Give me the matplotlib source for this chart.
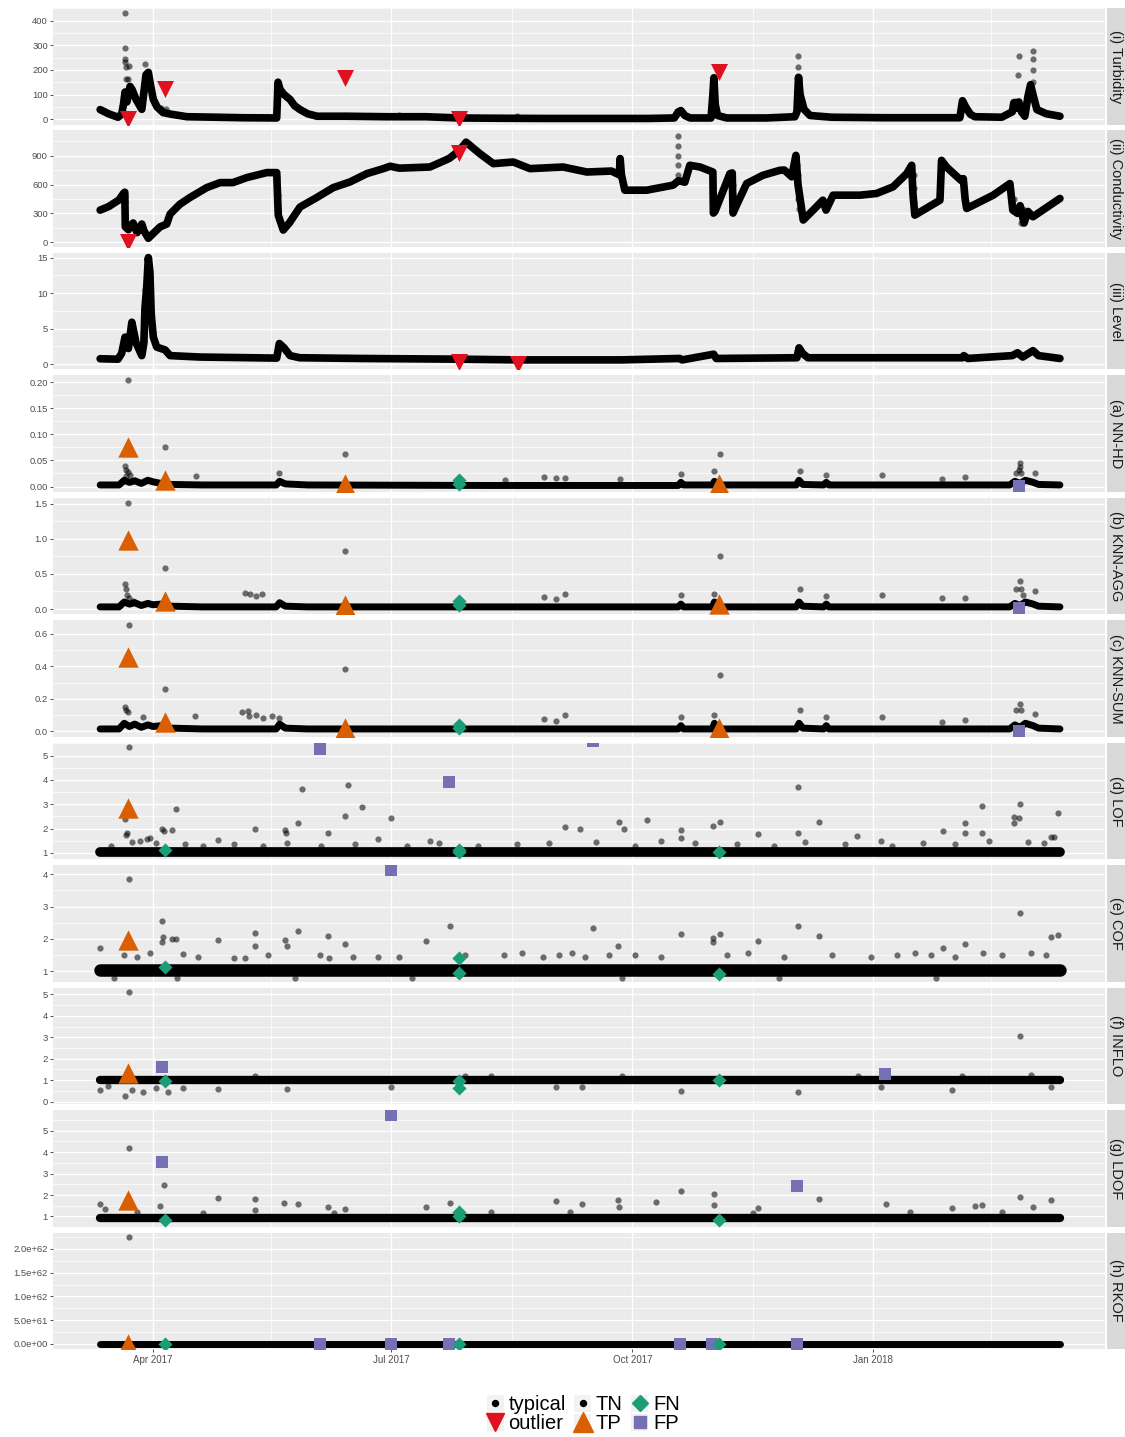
"""
Water-quality sensor signals and outlier scores of eight detectors,
stacked in ggplot-like facets with TP / FN / FP markers.
"""
import numpy as np
import pandas as pd
import matplotlib
matplotlib.use("Agg")
import matplotlib.pyplot as plt
from matplotlib.patches import Rectangle
from matplotlib.lines import Line2D
from matplotlib.legend_handler import HandlerBase

plt.rcParams['font.family'] = ['Liberation Sans', 'DejaVu Sans']

# --- DATA (day since START, value) ---
START = pd.Timestamp('2017-03-11')

turb_line = [(0.8, 39), (4, 22), (7.6, 8), (9, 20), (9.7, 60), (10.3, 110), (11, 70), (11.6, 100),
             (12.2, 133), (13, 120), (14.5, 80), (16.7, 40), (17.5, 110), (18.3, 180), (19.2, 190),
             (20, 140), (21.1, 80), (22.5, 50), (24.8, 27), (28, 20), (34, 10), (45, 8), (55, 6),
             (68.2, 5), (68.7, 150), (69.5, 120), (71, 100), (73.3, 80), (75, 55), (77.1, 39),
             (80, 22), (83.6, 12), (95, 12), (110, 10), (125, 10), (137.8, 5), (150, 4), (170, 3),
             (190, 3), (210, 3), (220, 5), (221.5, 30), (222.5, 35), (224, 15), (226, 5), (234, 5),
             (234.7, 100), (235.1, 168), (235.6, 60), (236.5, 15), (240, 5), (255, 5), (266, 10),
             (266.8, 30), (267.4, 170), (268, 100), (269.5, 40), (271.8, 15), (280, 8), (300, 6),
             (329, 6), (330, 75), (331.2, 50), (333, 20), (334.7, 10), (345, 8), (349, 30),
             (349.6, 67), (350.5, 45), (351.5, 70), (352.5, 30), (353.8, 12), (355, 93), (356, 140),
             (356.9, 100), (358.4, 39), (362, 22), (367.2, 12)]
turb_dots = [(10.2, 430), (10.2, 290), (10.3, 245), (10.4, 230), (10.5, 210), (10.6, 165),
             (11.3, 165), (12.0, 215), (18.0, 225), (19.0, 185), (19.5, 165), (22, 60), (24, 45),
             (26, 40), (68.6, 140), (68.7, 125), (68.8, 95), (234.9, 150), (235.0, 120),
             (235.0, 80), (267.2, 257), (267.3, 210), (267.5, 172), (267.5, 140), (351.0, 180),
             (351.5, 255), (350.0, 75), (349.8, 60), (356.9, 275), (356.9, 246), (357.0, 200),
             (357.0, 150), (115, 18), (160, 15)]
turb_outlier = [(11.5, 0), (25.6, 122), (94.3, 167), (137.8, 0), (237, 190)]

cond_line = [(0.8, 334), (4, 370), (8, 440), (9.7, 507), (10.2, 520), (10.4, 160), (11.6, 130),
             (12.2, 170), (13.4, 200), (14.9, 100), (16.7, 189), (17.5, 120), (19.2, 41), (21, 90),
             (23.7, 160), (26.2, 189), (27.5, 293), (31.3, 396), (35.1, 465), (41.5, 568),
             (46.6, 620), (51.5, 620), (56.8, 672), (64.4, 724), (68.2, 724), (68.8, 280),
             (70.7, 127), (73, 200), (77.1, 366), (83.5, 465), (89.8, 568), (96.2, 627),
             (102.6, 713), (108.9, 765), (111.5, 790), (115, 770), (126.7, 782), (134, 870),
             (137.8, 950), (140.5, 1040), (145.8, 920), (150.9, 817), (158.5, 834), (164.9, 765),
             (177.5, 782), (186.6, 730), (196, 740), (199, 700), (199.3, 870), (199.8, 700),
             (201.1, 541), (209.4, 541), (219.5, 593), (221.6, 640), (224, 624), (225.9, 800),
             (229.8, 782), (234.7, 730), (234.9, 303), (235.5, 320), (241.2, 713), (242.1, 720),
             (242.4, 303), (244, 400), (247.6, 610), (253.8, 696), (260.3, 748), (262, 750),
             (264.8, 680), (266.4, 903), (267.2, 600), (269.2, 231), (273, 334), (276.7, 437),
             (277.9, 334), (280.6, 489), (290.8, 489), (297.2, 507), (303.5, 576), (308.7, 713),
             (310.6, 800), (311.1, 500), (311.8, 282), (321.4, 437), (322, 851), (323.9, 782),
             (329.4, 644), (330.3, 661), (331, 450), (331.6, 351), (341.7, 489), (348.1, 610),
             (349.2, 334), (351, 300), (352, 380), (353.5, 200), (355, 320), (356.9, 265),
             (367.2, 455)]
cond_dots = [(10.3, 480), (10.3, 420), (10.3, 300), (10.4, 220), (68.5, 680), (68.5, 560),
             (68.6, 490), (68.6, 350), (221.3, 1100), (221.3, 1000), (221.3, 900), (221.4, 800),
             (221.4, 700), (234.8, 600), (234.8, 500), (234.8, 400), (242.3, 600), (242.3, 500),
             (242.3, 400), (267.0, 800), (267.1, 700), (267.3, 450), (267.4, 350), (311.3, 700),
             (311.3, 560), (311.4, 420), (349.8, 450), (351.5, 320), (352.5, 200), (353.0, 350)]
cond_outlier = [(11.5, 5), (137.8, 930)]

level_line = [(0.8, 0.76), (7.6, 0.7), (9, 1.5), (10.3, 3.8), (11.3, 2.5), (11.6, 2.2), (12.9, 5.9),
              (14.5, 3.0), (16.7, 1.2), (17.5, 3.0), (17.9, 7.8), (18.6, 11), (19.2, 15.0),
              (19.8, 13), (20.3, 7), (21.1, 3.8), (22.4, 2.4), (25.6, 2.0), (27.5, 1.2), (38.9, 1.0),
              (68.2, 0.85), (69.2, 2.9), (71, 2.3), (73.3, 1.2), (77, 0.9), (100, 0.8), (137.8, 0.7),
              (160, 0.6), (200, 0.6), (222, 0.8), (223, 0.6), (235, 1.4), (236, 0.8), (266.8, 0.9),
              (267.6, 2.3), (269, 1.5), (271, 0.9), (330, 0.9), (330.5, 1.2), (332, 0.8), (349, 1.2),
              (351, 1.6), (353, 1.0), (356.9, 1.9), (359, 1.2), (367.2, 0.8)]
level_dots = [(18.7, 14.6), (18.9, 14.2), (18.3, 10.7), (18.1, 10.5), (17.9, 7.6), (17.7, 6.0),
              (20.0, 10), (20.5, 5), (10.2, 3.5), (10.5, 3.0), (12.5, 4.5)]
level_outlier = [(137.8, 0.3), (160.3, 0.0)]

# shared reading days of the score baselines
score_day = [0.8, 8, 10, 12, 14, 16.5, 19, 21, 24, 28, 40, 68, 69.3, 71.5, 80, 150, 221.5, 222.5,
             223.5, 234.5, 235.3, 236.5, 266.5, 267.6, 269, 277, 278, 279, 330, 348, 350, 352,
             354, 357, 359, 367.2]
nnhd_base = [0.003, 0.003, 0.012, 0.008, 0.011, 0.006, 0.012, 0.009, 0.006, 0.004, 0.003, 0.003,
             0.010, 0.005, 0.003, 0.002, 0.002, 0.008, 0.003, 0.003, 0.010, 0.003, 0.003, 0.012,
             0.004, 0.003, 0.008, 0.003, 0.003, 0.003, 0.010, 0.006, 0.012, 0.008, 0.004, 0.003]
knnagg_base = [0.03, 0.03, 0.10, 0.07, 0.09, 0.05, 0.08, 0.06, 0.07, 0.04, 0.03, 0.03, 0.09, 0.04,
               0.03, 0.03, 0.03, 0.07, 0.03, 0.03, 0.10, 0.03, 0.03, 0.10, 0.04, 0.03, 0.07, 0.03,
               0.03, 0.03, 0.08, 0.05, 0.10, 0.07, 0.04, 0.03]
knnsum_base = [0.015, 0.015, 0.05, 0.03, 0.045, 0.025, 0.04, 0.03, 0.035, 0.02, 0.015, 0.015,
               0.045, 0.02, 0.015, 0.015, 0.015, 0.035, 0.015, 0.015, 0.05, 0.015, 0.015, 0.05,
               0.02, 0.015, 0.035, 0.015, 0.015, 0.015, 0.04, 0.025, 0.05, 0.035, 0.02, 0.015]
lof_base = [1.05] * len(score_day)
cof_base = [1.03] * len(score_day)
inflo_base = [1.0] * len(score_day)
ldof_base = [0.91] * len(score_day)
rkof_base = [0.0] * len(score_day)

nnhd_dots = [(11.6, 0.204), (10.3, 0.040), (10.7, 0.032), (11.3, 0.027), (10.5, 0.020),
             (12.3, 0.022), (25.5, 0.075), (37.4, 0.020), (69.1, 0.026), (94.3, 0.062),
             (155.3, 0.013), (170.2, 0.019), (174.8, 0.016), (178.2, 0.016), (199.2, 0.015),
             (222.5, 0.024), (235.1, 0.029), (237.4, 0.062), (267.9, 0.029), (277.9, 0.023),
             (299.2, 0.023), (322.1, 0.015), (330.9, 0.019), (350.4, 0.025), (351.5, 0.032),
             (351.9, 0.046), (351.9, 0.038), (352.5, 0.025), (357.6, 0.025)]
knnagg_dots = [(11.6, 1.51), (10.3, 0.35), (10.7, 0.28), (11.0, 0.20), (12.0, 0.15), (13.5, 0.12),
               (25.5, 0.59), (56.1, 0.23), (58.0, 0.21), (60.3, 0.18), (62.6, 0.22), (94.3, 0.83),
               (170.2, 0.17), (174.8, 0.14), (178.2, 0.22), (222.5, 0.20), (235.1, 0.22),
               (237.4, 0.76), (267.9, 0.29), (277.9, 0.19), (299.2, 0.20), (322.1, 0.15),
               (330.9, 0.15), (350.4, 0.29), (351.9, 0.40), (352.5, 0.29), (353.0, 0.20),
               (357.6, 0.26)]
knnsum_dots = [(11.8, 0.654), (10.3, 0.15), (10.7, 0.13), (11.3, 0.12), (25.5, 0.26), (17.1, 0.09),
               (37.0, 0.096), (55.0, 0.12), (57.3, 0.125), (57.5, 0.096), (60.3, 0.10),
               (63.1, 0.085), (66.3, 0.093), (69.1, 0.085), (94.3, 0.386), (170.2, 0.076),
               (174.8, 0.065), (178.2, 0.10), (222.5, 0.09), (235.1, 0.10), (237.4, 0.35),
               (267.9, 0.13), (277.9, 0.09), (299.2, 0.09), (322.1, 0.06), (330.9, 0.07),
               (350.4, 0.13), (351.9, 0.17), (352.5, 0.13), (357.6, 0.11)]
lof_dots = [(11.8, 5.35), (10.3, 2.375), (10.7, 1.75), (11.0, 1.8), (18.6, 1.57), (24.5, 1.99),
            (25.0, 1.9), (28.1, 1.95), (29.8, 2.79), (45.8, 1.53), (59.9, 2.0), (71.4, 1.96),
            (71.8, 1.8), (76.5, 2.22), (77.7, 3.63), (87.9, 1.8), (94.3, 2.5), (95.5, 3.79),
            (100.6, 2.89), (106.8, 1.55), (111.8, 2.45), (126.7, 1.5), (178.2, 2.05), (184.0, 1.99),
            (199.0, 2.26), (200.8, 1.99), (209.5, 2.36), (222.5, 1.96), (222.5, 1.6), (234.7, 2.1),
            (237.4, 2.29), (252.1, 1.76), (267.2, 3.71), (267.2, 1.8), (275.2, 2.26), (289.7, 1.7),
            (298.9, 1.5), (322.5, 1.92), (330.9, 2.24), (330.9, 1.8), (337.4, 2.92), (337.4, 1.8),
            (349.6, 2.47), (351.9, 3.03), (351.5, 2.45), (349.6, 2.22), (366.4, 2.65),
            (363.7, 1.65), (365.0, 1.65),
            (5, 1.3), (13, 1.45), (16, 1.5), (20, 1.6), (22, 1.4), (33, 1.35), (40, 1.3), (52, 1.35),
            (63, 1.3), (72, 1.4), (85, 1.3), (98, 1.35), (118, 1.3), (130, 1.4), (145, 1.3),
            (160, 1.35), (172, 1.4), (190, 1.45), (205, 1.3), (215, 1.5), (228, 1.4), (244, 1.35),
            (258, 1.3), (270, 1.45), (285, 1.35), (303, 1.3), (315, 1.4), (327, 1.35), (340, 1.5),
            (355, 1.45), (361, 1.4)]
cof_dots = [(0.8, 1.72), (11.8, 3.85), (24.5, 2.54), (24.7, 2.07), (24.5, 1.9), (28.1, 1.98),
            (29.8, 2.0), (45.8, 1.95), (59.9, 2.19), (59.9, 1.79), (71.4, 1.96), (72.0, 1.79),
            (76.5, 2.23), (87.9, 2.1), (94.3, 1.85), (106.8, 1.45), (32.3, 1.53), (52, 1.42),
            (56, 1.4), (84.7, 1.5), (97.3, 1.43), (125.2, 1.93), (134.4, 2.39), (188.9, 2.34),
            (198.5, 1.79), (222.5, 2.16), (234.7, 2.03), (234.9, 1.9), (237.4, 2.16), (252.1, 1.93),
            (267.2, 2.39), (275.2, 2.09), (322.5, 1.72), (330.9, 1.84), (351.9, 2.79),
            (363.7, 2.05), (366.4, 2.13),
            (10, 1.5), (15, 1.45), (20, 1.55), (38, 1.45), (65, 1.5), (88, 1.4), (115, 1.45),
            (140, 1.5), (155, 1.5), (162, 1.55), (170, 1.45), (176, 1.5), (181, 1.55), (186, 1.45),
            (195, 1.5), (205, 1.5), (215, 1.45), (240, 1.5), (248, 1.55), (262, 1.45), (280, 1.5),
            (295, 1.45), (305, 1.5), (312, 1.55), (318, 1.5), (327, 1.45), (338, 1.55), (345, 1.5),
            (356, 1.55), (362, 1.5), (6, 0.8), (30, 0.78), (75, 0.8), (120, 0.8), (200, 0.79),
            (260, 0.8), (320, 0.8)]
inflo_dots = [(11.8, 5.12), (0.8, 0.55), (3.9, 0.73), (10.3, 0.26), (12.9, 0.55), (17.1, 0.45),
              (22.0, 0.66), (26.6, 0.45), (32.3, 0.66), (45.9, 0.6), (72.0, 0.6), (111.7, 0.7),
              (351.9, 3.07), (267.2, 0.43), (222.5, 0.5), (326.0, 0.53), (184.7, 0.7),
              (174.8, 0.7), (363.7, 0.7), (298.9, 0.7), (140, 1.2), (150, 1.22), (356, 1.25),
              (60, 1.18), (200, 1.2), (290, 1.18), (330, 1.2)]
ldof_dots = [(11.8, 4.2), (0.8, 1.59), (2.5, 1.33), (25.2, 2.45), (23.5, 1.5), (45.9, 1.86),
             (59.9, 1.83), (71.0, 1.65), (76.3, 1.58), (87.8, 1.45), (94.3, 1.35), (59.9, 1.3),
             (125.2, 1.42), (134.4, 1.61), (174.8, 1.7), (184.7, 1.56), (198.5, 1.78), (199.0, 1.45),
             (213.0, 1.67), (222.5, 2.2), (235.1, 2.03), (235.1, 1.55), (252.1, 1.41), (275.2, 1.8),
             (300.8, 1.6), (326, 1.4), (334.7, 1.5), (337.4, 1.53), (351.9, 1.9), (363.7, 1.75),
             (357, 1.45), (15, 1.2), (40, 1.15), (90, 1.15), (150, 1.2), (180, 1.2), (250, 1.15),
             (310, 1.2), (345, 1.2)]
rkof_dots = [(11.8, 2.25e62)]

# outcome markers per detector: (day, score)
nnhd_tp = [(11.5, 0.075), (25.6, 0.012), (94.3, 0.005), (237, 0.004)]
nnhd_fn = [(137.8, 0.005), (137.8, 0.012)]
nnhd_fp = [(351.5, 0.001)]
knnagg_tp = [(11.5, 0.99), (25.6, 0.12), (94.3, 0.06), (237, 0.07)]
knnagg_fn = [(137.8, 0.05), (137.8, 0.11)]
knnagg_fp = [(351.5, 0.01)]
knnsum_tp = [(11.5, 0.46), (25.6, 0.057), (94.3, 0.02), (237, 0.02)]
knnsum_fn = [(137.8, 0.02), (137.8, 0.04)]
knnsum_fp = [(351.5, 0.005)]
lof_tp = [(11.5, 2.83)]
lof_fn = [(25.6, 1.12), (137.8, 1.1), (137.8, 1.05), (237, 1.05)]
lof_fp = [(84.7, 5.27), (134, 3.92), (188.9, 5.62)]
cof_tp = [(11.5, 1.95)]
cof_fn = [(25.6, 1.14), (137.8, 1.42), (137.8, 0.95), (237, 0.9)]
cof_fp = [(111.8, 4.12)]
inflo_tp = [(11.5, 1.32)]
inflo_fn = [(25.6, 0.95), (137.8, 0.95), (137.8, 0.65), (237, 1.0)]
inflo_fp = [(24.4, 1.62), (300.6, 1.29)]
ldof_tp = [(11.5, 1.75)]
ldof_fn = [(25.6, 0.85), (137.8, 1.2), (137.8, 1.0), (237, 0.85)]
ldof_fp = [(24.4, 3.55), (111.8, 5.71), (266.8, 2.43)]
rkof_tp = [(11.5, 0.0)]
rkof_fn = [(25.6, 0.0), (137.8, 0.0), (237, 0.0)]
rkof_fp = [(84.7, 0.0), (111.8, 0.0), (134, 0.0), (222.1, 0.0), (234.4, 0.0), (266.8, 0.0)]

panel_names = ['(i) Turbidity', '(ii) Conductivity', '(iii) Level', '(a) NN-HD', '(b) KNN-AGG',
               '(c) KNN-SUM', '(d) LOF', '(e) COF', '(f) INFLO', '(g) LDOF', '(h) RKOF']

x_major = ['2017-04-01', '2017-07-01', '2017-10-01', '2018-01-01']
x_minor = ['2017-05-16', '2017-08-16', '2017-11-16', '2018-02-15']

# --- STYLE ---
W, H = 1125, 1437
BG = '#EBEBEB'
RED, ORANGE, GREEN, PURPLE = '#E0101E', '#D95F02', '#1B9E77', '#7570B3'
S_DOT, S_OUT, S_TP, S_FN, S_FP = 20, 150, 215, 52, 78


def to_dt(days):
    return START + pd.to_timedelta(np.asarray(days, dtype=float), unit='D')


def unzip(pairs):
    d, v = zip(*pairs)
    return to_dt(d), np.array(v, dtype=float)


def sci(v):
    m, e = f"{v:.1e}".split('e')
    return f"{m}e{int(e):+03d}"


panels = [
    dict(line=unzip(turb_line), lw=5.5, dots=turb_dots, out=turb_outlier,
         ylim=(-21.5, 451), ticks=[0, 100, 200, 300, 400], minor=[50, 150, 250, 350, 450], fmt='{:g}'),
    dict(line=unzip(cond_line), lw=5.5, dots=cond_dots, out=cond_outlier,
         ylim=(-49, 1162), ticks=[0, 300, 600, 900], minor=[150, 450, 750, 1050], fmt='{:g}'),
    dict(line=unzip(level_line), lw=5.5, dots=level_dots, out=level_outlier,
         ylim=(-0.74, 15.66), ticks=[0, 5, 10, 15], minor=[2.5, 7.5, 12.5], fmt='{:g}'),
    dict(line=(to_dt(score_day), np.array(nnhd_base)), lw=5, dots=nnhd_dots,
         tp=nnhd_tp, fn=nnhd_fn, fp=nnhd_fp, ylim=(-0.0102, 0.213),
         ticks=[0, 0.05, 0.10, 0.15, 0.20], minor=[0.025, 0.075, 0.125, 0.175], fmt='{:.2f}'),
    dict(line=(to_dt(score_day), np.array(knnagg_base)), lw=5, dots=knnagg_dots,
         tp=knnagg_tp, fn=knnagg_fn, fp=knnagg_fp, ylim=(-0.0755, 1.585),
         ticks=[0, 0.5, 1.0, 1.5], minor=[0.25, 0.75, 1.25], fmt='{:.1f}'),
    dict(line=(to_dt(score_day), np.array(knnsum_base)), lw=5, dots=knnsum_dots,
         tp=knnsum_tp, fn=knnsum_fn, fp=knnsum_fp, ylim=(-0.033, 0.684),
         ticks=[0, 0.2, 0.4, 0.6], minor=[0.1, 0.3, 0.5], fmt='{:.1f}'),
    dict(line=(to_dt(score_day), np.array(lof_base)), lw=7, dots=lof_dots,
         tp=lof_tp, fn=lof_fn, fp=lof_fp, ylim=(0.74, 5.53),
         ticks=[1, 2, 3, 4, 5], minor=[1.5, 2.5, 3.5, 4.5, 5.5], fmt='{:g}'),
    dict(line=(to_dt(score_day), np.array(cof_base)), lw=9, dots=cof_dots,
         tp=cof_tp, fn=cof_fn, fp=cof_fp, ylim=(0.675, 4.28),
         ticks=[1, 2, 3, 4], minor=[1.5, 2.5, 3.5], fmt='{:g}'),
    dict(line=(to_dt(score_day), np.array(inflo_base)), lw=6, dots=inflo_dots,
         tp=inflo_tp, fn=inflo_fn, fp=inflo_fp, ylim=(-0.11, 5.31),
         ticks=[0, 1, 2, 3, 4, 5], minor=[0.5, 1.5, 2.5, 3.5, 4.5], fmt='{:g}'),
    dict(line=(to_dt(score_day), np.array(ldof_base)), lw=6, dots=ldof_dots,
         tp=ldof_tp, fn=ldof_fn, fp=ldof_fp, ylim=(0.53, 5.96),
         ticks=[1, 2, 3, 4, 5], minor=[1.5, 2.5, 3.5, 4.5, 5.5], fmt='{:g}'),
    dict(line=(to_dt(score_day), np.array(rkof_base)), lw=5, dots=rkof_dots,
         tp=rkof_tp, fn=rkof_fn, fp=rkof_fp, ylim=(-0.106e62, 2.345e62),
         ticks=[0, 0.5e62, 1.0e62, 1.5e62, 2.0e62], minor=[0.25e62, 0.75e62, 1.25e62, 1.75e62, 2.25e62],
         fmt='sci'),
]

fig = plt.figure(figsize=(W / 100, H / 100), dpi=100)
xlim = to_dt([-17.2, 384.4])
PERIOD, PH = 122.45, 116.5

for k, (p, name) in enumerate(zip(panels, panel_names)):
    top = 8 + k * PERIOD
    bottom = 1 - (top + PH) / H
    ax = fig.add_axes([53 / W, bottom, (1105 - 53) / W, PH / H])
    ax.set_facecolor(BG)
    for s in ax.spines.values():
        s.set_visible(False)
    ax.set_xlim(xlim)
    ax.set_ylim(*p['ylim'])
    ax.set_yticks(p['ticks'])
    if p['fmt'] == 'sci':
        ax.set_yticklabels([sci(t) for t in p['ticks']])
    else:
        ax.set_yticklabels([p['fmt'].format(t) for t in p['ticks']])
    ax.set_yticks(p['minor'], minor=True)
    ax.set_xticks(pd.to_datetime(x_major))
    ax.set_xticks(pd.to_datetime(x_minor), minor=True)
    ax.grid(which='major', color='white', lw=1.0)
    ax.grid(which='minor', color='white', lw=0.5)
    ax.set_axisbelow(True)
    ax.tick_params(which='minor', length=0)
    ax.tick_params(axis='y', which='major', length=2.2, width=0.6, color='#333333',
                   labelsize=6.8, labelcolor='#4D4D4D', pad=1.5)
    if k == len(panels) - 1:
        ax.set_xticklabels(pd.to_datetime(x_major).strftime('%b %Y'))
        ax.tick_params(axis='x', which='major', length=2.2, width=0.6, color='#333333',
                       labelsize=7, labelcolor='#4D4D4D', pad=2)
    else:
        ax.tick_params(axis='x', which='major', length=0, labelbottom=False)

    # typical points: dense run drawn as a thick trace plus the stray readings
    xs, ys = p['line']
    ax.plot(xs, ys, color='black', lw=p['lw'], solid_capstyle='round', solid_joinstyle='round',
            zorder=2)
    dx, dy = unzip(p['dots'])
    ax.scatter(dx, dy, s=S_DOT, color='black', alpha=0.55, lw=0, zorder=3)

    if 'out' in p:
        ox, oy = unzip(p['out'])
        ax.scatter(ox, oy, s=S_OUT, marker='v', color=RED, lw=0, zorder=5)
    if 'fp' in p:
        fx, fy = unzip(p['fp'])
        ax.scatter(fx, fy, s=S_FP, marker='s', color=PURPLE, lw=0, zorder=4)
        nx, ny = unzip(p['fn'])
        ax.scatter(nx, ny, s=S_FN, marker='D', color=GREEN, lw=0, zorder=5)
        tx, ty = unzip(p['tp'])
        ax.scatter(tx, ty, s=S_TP, marker='^', color=ORANGE, lw=0, zorder=6)

    # facet strip on the right
    sax = fig.add_axes([1107 / W, bottom, 22 / W, PH / H])
    sax.set_facecolor('#D9D9D9')
    sax.set_xticks([])
    sax.set_yticks([])
    for s in sax.spines.values():
        s.set_visible(False)
    sax.text(0.40, 0.5, name, rotation=-90, ha='center', va='center', fontsize=10.5,
             color='#1A1A1A', transform=sax.transAxes)


class KeyHandler(HandlerBase):
    def create_artists(self, legend, orig_handle, xdescent, ydescent, width, height,
                       fontsize, trans):
        side = 17 * 72 / 100
        cx = width / 2 - xdescent
        cy = height / 2 - ydescent
        rect = Rectangle((cx - side / 2, cy - side / 2), side, side, facecolor='#F2F2F2',
                         edgecolor='none', transform=trans)
        mk = Line2D([cx], [cy])
        mk.update_from(orig_handle)
        mk.set_transform(trans)
        return [rect, mk]


handles = [
    Line2D([], [], marker='o', ms=4.3, color='black', ls='none'),
    Line2D([], [], marker='v', ms=12.5, color=RED, ls='none'),
    Line2D([], [], marker='o', ms=4.3, color='black', ls='none'),
    Line2D([], [], marker='^', ms=15, color=ORANGE, ls='none'),
    Line2D([], [], marker='D', ms=8, color=GREEN, ls='none'),
    Line2D([], [], marker='s', ms=8.5, color=PURPLE, ls='none'),
]
labels = ['typical', 'outlier', 'TN', 'TP', 'FN', 'FP']
fig.legend(handles, labels, handler_map={Line2D: KeyHandler()}, loc='center',
           bbox_to_anchor=(583 / W, 1 - 1414 / H), ncol=3, frameon=False, fontsize=14.5,
           handlelength=0.9, handleheight=0.8, handletextpad=0.2, columnspacing=0.4,
           labelspacing=0.0, borderpad=0.0)

fig.savefig('out.png', dpi=100, facecolor='white')
